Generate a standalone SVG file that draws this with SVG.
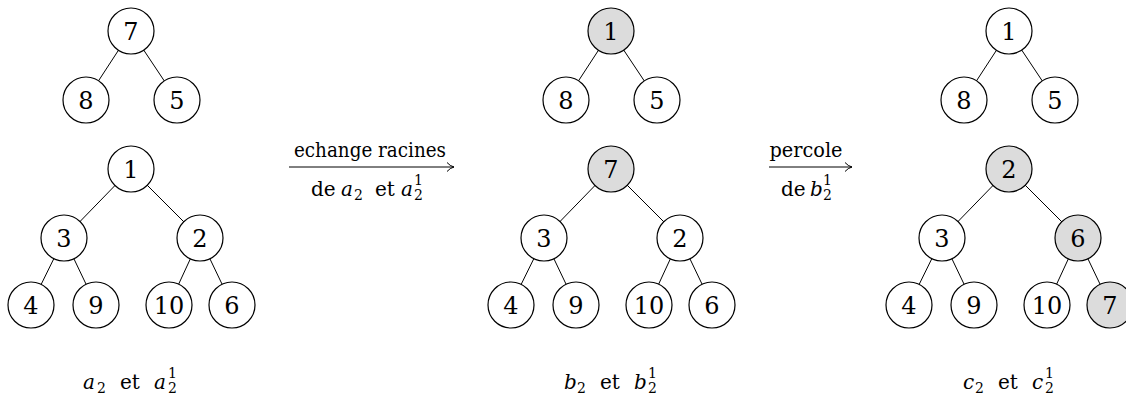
<svg xmlns="http://www.w3.org/2000/svg" width="1126" height="397" viewBox="0 0 1126 397">
<defs>
<style>
.n circle{fill:#fff;stroke:#000;stroke-width:1.2}
.n.g circle{fill:#dcdcdc}
.n text{font-size:24px;text-anchor:middle;fill:#000}
.e line{stroke:#000;stroke-width:1}
.t{font-size:20px;fill:#000}
.i{font-style:italic}
.s{font-size:14px}
.arr{stroke:#000;stroke-width:1;fill:none}
</style>
<marker id="ah" markerWidth="12" markerHeight="12" refX="10" refY="6" orient="auto" markerUnits="userSpaceOnUse">
<path d="M3,1.5 Q6,5 10,6 Q6,7 3,10.5" fill="none" stroke="#000" stroke-width="1"/>
</marker>
</defs>
<rect width="1126" height="397" fill="#fff"/>

<g id="connectors" class="e">
 <g id="edges-a">
  <line x1="131" y1="31" x2="86" y2="100"/><line x1="131" y1="31" x2="177" y2="100"/>
  <line x1="131" y1="169" x2="64" y2="238"/><line x1="131" y1="169" x2="200" y2="238"/>
  <line x1="64" y1="238" x2="31" y2="305"/><line x1="64" y1="238" x2="96" y2="305"/>
  <line x1="200" y1="238" x2="169" y2="305"/><line x1="200" y1="238" x2="232" y2="305"/>
 </g>
 <g id="edges-b" transform="translate(480,0)">
  <line x1="131" y1="31" x2="86" y2="100"/><line x1="131" y1="31" x2="177" y2="100"/>
  <line x1="131" y1="169" x2="64" y2="238"/><line x1="131" y1="169" x2="200" y2="238"/>
  <line x1="64" y1="238" x2="31" y2="305"/><line x1="64" y1="238" x2="96" y2="305"/>
  <line x1="200" y1="238" x2="169" y2="305"/><line x1="200" y1="238" x2="232" y2="305"/>
 </g>
 <g id="edges-c" transform="translate(878,0)">
  <line x1="131" y1="31" x2="86" y2="100"/><line x1="131" y1="31" x2="177" y2="100"/>
  <line x1="131" y1="169" x2="64" y2="238"/><line x1="131" y1="169" x2="200" y2="238"/>
  <line x1="64" y1="238" x2="31" y2="305"/><line x1="64" y1="238" x2="96" y2="305"/>
  <line x1="200" y1="238" x2="169" y2="305"/><line x1="200" y1="238" x2="232" y2="305"/>
 </g>
 <line id="arrow1" class="arr" x1="289" y1="167" x2="454" y2="167" marker-end="url(#ah)"/>
 <line id="arrow2" class="arr" x1="769" y1="167" x2="852" y2="167" marker-end="url(#ah)"/>
</g>

<g id="nodes" font-family="DejaVu Serif, serif">
<!-- Tree a -->
<g id="a-top-7" class="n"><circle cx="131" cy="31" r="23"/><text x="131" y="40">7</text></g>
<g id="a-top-8" class="n"><circle cx="86" cy="100" r="23"/><text x="86" y="109">8</text></g>
<g id="a-top-5" class="n"><circle cx="177" cy="100" r="23"/><text x="177" y="109">5</text></g>
<g id="a-1" class="n"><circle cx="131" cy="169" r="23"/><text x="131" y="178">1</text></g>
<g id="a-3" class="n"><circle cx="64" cy="238" r="23"/><text x="64" y="247">3</text></g>
<g id="a-2" class="n"><circle cx="200" cy="238" r="23"/><text x="200" y="247">2</text></g>
<g id="a-4" class="n"><circle cx="31" cy="305" r="23"/><text x="31" y="314">4</text></g>
<g id="a-9" class="n"><circle cx="96" cy="305" r="23"/><text x="96" y="314">9</text></g>
<g id="a-10" class="n"><circle cx="169" cy="305" r="23"/><text x="169" y="314">10</text></g>
<g id="a-6" class="n"><circle cx="232" cy="305" r="23"/><text x="232" y="314">6</text></g>

<!-- Tree b -->
<g id="b-top-1" class="n g"><circle cx="611" cy="31" r="23"/><text x="611" y="40">1</text></g>
<g id="b-top-8" class="n"><circle cx="566" cy="100" r="23"/><text x="566" y="109">8</text></g>
<g id="b-top-5" class="n"><circle cx="657" cy="100" r="23"/><text x="657" y="109">5</text></g>
<g id="b-7" class="n g"><circle cx="611" cy="169" r="23"/><text x="611" y="178">7</text></g>
<g id="b-3" class="n"><circle cx="544" cy="238" r="23"/><text x="544" y="247">3</text></g>
<g id="b-2" class="n"><circle cx="680" cy="238" r="23"/><text x="680" y="247">2</text></g>
<g id="b-4" class="n"><circle cx="511" cy="305" r="23"/><text x="511" y="314">4</text></g>
<g id="b-9" class="n"><circle cx="576" cy="305" r="23"/><text x="576" y="314">9</text></g>
<g id="b-10" class="n"><circle cx="649" cy="305" r="23"/><text x="649" y="314">10</text></g>
<g id="b-6" class="n"><circle cx="712" cy="305" r="23"/><text x="712" y="314">6</text></g>

<!-- Tree c -->
<g id="c-top-1" class="n"><circle cx="1009" cy="31" r="23"/><text x="1009" y="40">1</text></g>
<g id="c-top-8" class="n"><circle cx="964" cy="100" r="23"/><text x="964" y="109">8</text></g>
<g id="c-top-5" class="n"><circle cx="1055" cy="100" r="23"/><text x="1055" y="109">5</text></g>
<g id="c-2" class="n g"><circle cx="1009" cy="169" r="23"/><text x="1009" y="178">2</text></g>
<g id="c-3" class="n"><circle cx="942" cy="238" r="23"/><text x="942" y="247">3</text></g>
<g id="c-6" class="n g"><circle cx="1078" cy="238" r="23"/><text x="1078" y="247">6</text></g>
<g id="c-4" class="n"><circle cx="909" cy="305" r="23"/><text x="909" y="314">4</text></g>
<g id="c-9" class="n"><circle cx="974" cy="305" r="23"/><text x="974" y="314">9</text></g>
<g id="c-10" class="n"><circle cx="1047" cy="305" r="23"/><text x="1047" y="314">10</text></g>
<g id="c-7" class="n g"><circle cx="1110" cy="305" r="23"/><text x="1110" y="314">7</text></g>
</g>

<g id="texts" font-family="DejaVu Serif, serif">
<!-- Arrow labels -->
<g id="label1">
 <text class="t" x="370" y="157" text-anchor="middle" textLength="152" lengthAdjust="spacingAndGlyphs">echange racines</text>
 <text class="t"><tspan x="311" y="196">de</tspan><tspan class="i" x="341" y="196">a</tspan><tspan class="s" x="354" y="200">2</tspan><tspan x="375" y="196">et</tspan><tspan class="i" x="401" y="196">a</tspan><tspan class="s" x="414" y="185">1</tspan><tspan class="s" x="414" y="200">2</tspan></text>
</g>
<g id="label2">
 <text class="t" x="806" y="157" text-anchor="middle" textLength="73" lengthAdjust="spacingAndGlyphs">percole</text>
 <text class="t"><tspan x="781" y="196">de</tspan><tspan class="i" x="810" y="196">b</tspan><tspan class="s" x="823" y="185">1</tspan><tspan class="s" x="823" y="200">2</tspan></text>
</g>

<!-- Captions -->
<g id="caption-a">
 <text class="t"><tspan class="i" x="83" y="389">a</tspan><tspan class="s" x="97" y="393">2</tspan><tspan x="120" y="389">et</tspan><tspan class="i" x="154" y="389">a</tspan><tspan class="s" x="168" y="378">1</tspan><tspan class="s" x="168" y="393">2</tspan></text>
</g>
<g id="caption-b">
 <text class="t"><tspan class="i" x="564" y="389">b</tspan><tspan class="s" x="577" y="393">2</tspan><tspan x="600" y="389">et</tspan><tspan class="i" x="634" y="389">b</tspan><tspan class="s" x="648" y="378">1</tspan><tspan class="s" x="648" y="393">2</tspan></text>
</g>
<g id="caption-c">
 <text class="t"><tspan class="i" x="963" y="389">c</tspan><tspan class="s" x="975" y="393">2</tspan><tspan x="998" y="389">et</tspan><tspan class="i" x="1032" y="389">c</tspan><tspan class="s" x="1045" y="378">1</tspan><tspan class="s" x="1045" y="393">2</tspan></text>
</g>
</g>
</svg>
